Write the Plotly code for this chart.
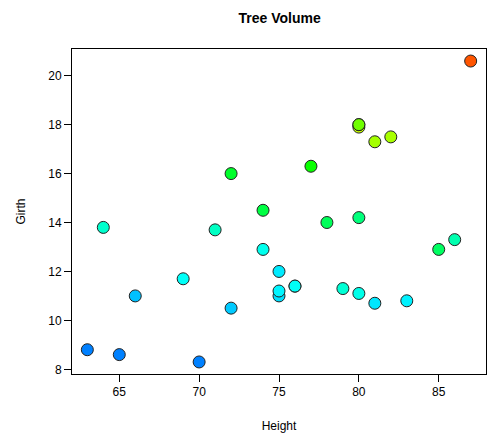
import colorsys
import plotly.graph_objects as go

# Black cherry trees: height (ft), girth (in), volume (cu ft)
height = [70, 65, 63, 72, 81, 83, 66, 75, 80, 75, 79, 76, 76, 69, 75, 74, 85, 86,
          71, 64, 78, 80, 74, 72, 77, 81, 82, 80, 80, 80, 87]
girth = [8.3, 8.6, 8.8, 10.5, 10.7, 10.8, 11.0, 11.0, 11.1, 11.2, 11.3, 11.4, 11.4,
         11.7, 12.0, 12.9, 12.9, 13.3, 13.7, 13.8, 14.0, 14.2, 14.5, 16.0, 16.3,
         17.3, 17.5, 17.9, 18.0, 18.0, 20.6]
volume = [10.3, 10.3, 10.2, 16.4, 18.8, 19.7, 15.6, 18.2, 22.6, 19.9, 24.2, 21.0,
          21.4, 21.3, 19.1, 22.2, 33.8, 27.4, 25.7, 24.9, 34.5, 31.7, 36.3, 38.3,
          42.6, 55.4, 55.7, 58.3, 51.5, 51.0, 77.0]

x_ticks = [65, 70, 75, 80, 85]
y_ticks = [8, 10, 12, 14, 16, 18, 20]


def hue_color(v, vmin, vmax):
    # map volume onto hue: blue (low) -> orange-red (high)
    t = (v - vmin) / (vmax - vmin)
    h = (210 - t * 190) / 360.0
    r, g, b = colorsys.hsv_to_rgb(h, 1.0, 1.0)
    return "rgb(%d,%d,%d)" % (round(r * 255), round(g * 255), round(b * 255))


vmin, vmax = min(volume), max(volume)
colors = [hue_color(v, vmin, vmax) for v in volume]


def padded(vals, frac=0.04):
    lo, hi = min(vals), max(vals)
    d = (hi - lo) * frac
    return [lo - d, hi + d]


fig = go.Figure(
    go.Scatter(
        x=height,
        y=girth,
        mode="markers",
        marker=dict(size=12, color=colors, line=dict(color="#222222", width=1)),
        showlegend=False,
    )
)

font = "Liberation Sans, Arial, Helvetica, sans-serif"

fig.update_layout(
    width=492,
    height=436,
    margin=dict(l=72, r=5, t=49, b=59),
    paper_bgcolor="white",
    plot_bgcolor="white",
    font=dict(family=font, size=12, color="black"),
    title=dict(
        text="<b>Tree Volume</b>",
        x=0.5685,
        xanchor="center",
        y=0.958,
        yanchor="middle",
        font=dict(family=font, size=14, color="black"),
    ),
)

fig.update_xaxes(
    range=padded(height),
    tickvals=x_ticks,
    ticks="outside",
    ticklen=7,
    tickcolor="black",
    tickwidth=1,
    showline=True,
    linecolor="black",
    linewidth=1,
    mirror=True,
    showgrid=False,
    zeroline=False,
    tickfont=dict(size=12),
    title=dict(text="Height", font=dict(size=12), standoff=23),
)
fig.update_yaxes(
    range=padded(girth),
    tickvals=y_ticks,
    ticks="outside",
    ticklen=7,
    tickcolor="black",
    tickwidth=1,
    showline=True,
    linecolor="black",
    linewidth=1,
    mirror=True,
    showgrid=False,
    zeroline=False,
    tickfont=dict(size=12),
    title=dict(text="Girth", font=dict(size=12), standoff=20),
)

fig.write_html("out.html")
